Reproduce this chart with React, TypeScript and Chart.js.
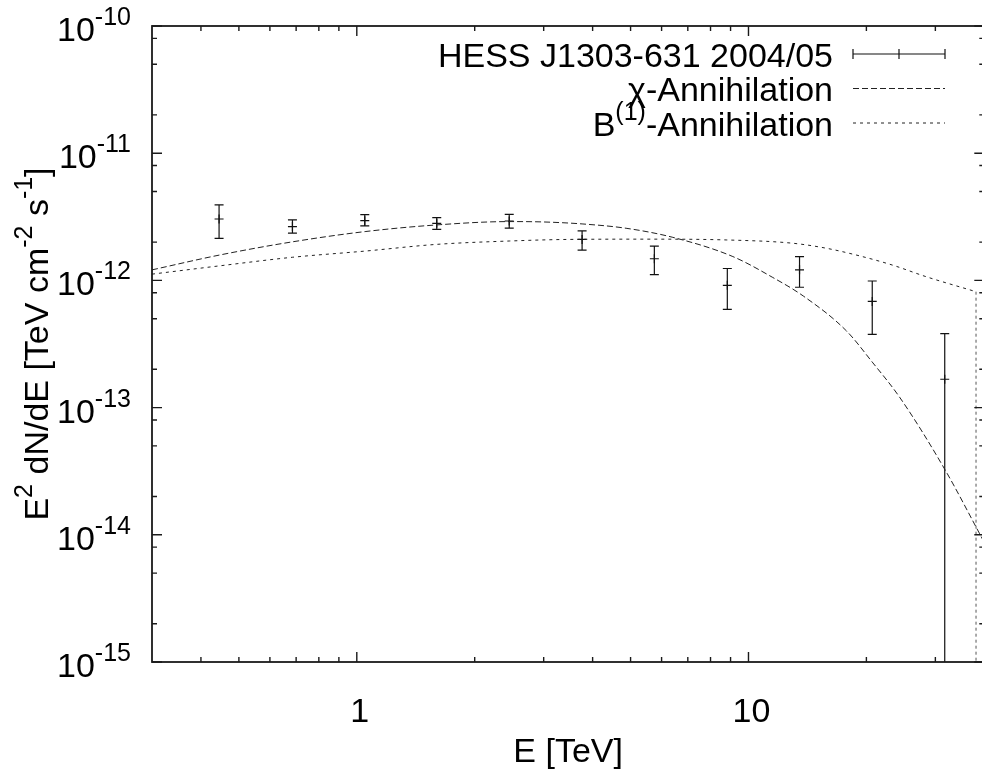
import { useEffect, useRef } from 'react';
import { Chart, registerables } from 'chart.js';

Chart.register(...registerables);

// HESS J1303-631 (2004/05) spectral points, E^2 dN/dE in TeV cm^-2 s^-1
const energies = [0.445, 0.685, 1.048, 1.6, 2.45, 3.76, 5.75, 8.83, 13.5, 20.7, 31.7];
const fluxes = [3.04e-12, 2.65e-12, 2.95e-12, 2.81e-12, 2.93e-12, 2.1e-12, 1.48e-12, 9.14e-13, 1.21e-12, 6.84e-13, 1.67e-13];
const fluxHigh = [3.92e-12, 2.99e-12, 3.29e-12, 3.11e-12, 3.31e-12, 2.45e-12, 1.86e-12, 1.24e-12, 1.54e-12, 9.89e-13, 3.81e-13];
const fluxLow = [2.14e-12, 2.35e-12, 2.68e-12, 2.52e-12, 2.58e-12, 1.73e-12, 1.11e-12, 5.92e-13, 8.83e-13, 3.77e-13, 0];

// neutralino annihilation spectrum
const chiEnergies = [0.3, 0.445, 0.685, 1.05, 1.6, 2.45, 3.0, 3.76, 4.87, 6.41, 9.12, 11.5, 13.8, 17.8, 20.7, 24.3, 31.8, 38.85, 40];
const chiFlux = [1.21e-12, 1.58e-12, 2.01e-12, 2.42e-12, 2.73e-12, 2.9e-12, 2.88e-12, 2.78e-12, 2.57e-12, 2.18e-12, 1.54e-12, 1.06e-12, 7.54e-13, 4.0e-13, 2.28e-13, 1.21e-13, 3.22e-14, 1.03e-14, 8.7e-15];

// B(1) (Kaluza-Klein) annihilation spectrum, ends at the particle mass
const kkEnergies = [0.3, 0.445, 0.685, 1.05, 1.6, 2.45, 3.5, 5.5, 8.77, 12.96, 15.8, 19.2, 23.3, 28.4, 38.1];
const kkFlux = [1.12e-12, 1.3e-12, 1.52e-12, 1.7e-12, 1.92e-12, 2.04e-12, 2.1e-12, 2.11e-12, 2.08e-12, 1.96e-12, 1.79e-12, 1.56e-12, 1.32e-12, 1.07e-12, 8.15e-13];
const kkCutoffEnergy = 38.1;

// axes
const xRange = [0.3, 40];
const yRange = [1e-15, 1e-10];
const xLabelTicks = [1, 10];
const yDecades = [-15, -14, -13, -12, -11, -10];
const yMinorMantissas = [2, 5, 8];

const legendLabels = ['HESS J1303-631 2004/05', '\u03c7-Annihilation', 'B(1)-Annihilation'];

const FONT = '"Liberation Sans", Arial, Helvetica, sans-serif';
const MAIN = 34;
const SUP = 25;
const RISE = 16;
const INK = '#111';

type Seg = [string, boolean];

function segsWidth(ctx: CanvasRenderingContext2D, segs: Seg[]) {
  let w = 0;
  for (const [t, sup] of segs) {
    ctx.font = `${sup ? SUP : MAIN}px ${FONT}`;
    w += ctx.measureText(t).width;
  }
  return w;
}

function drawSegs(ctx: CanvasRenderingContext2D, segs: Seg[], x: number, baseline: number) {
  ctx.textAlign = 'left';
  ctx.textBaseline = 'alphabetic';
  let cx = x;
  for (const [t, sup] of segs) {
    ctx.font = `${sup ? SUP : MAIN}px ${FONT}`;
    ctx.fillText(t, cx, sup ? baseline - RISE : baseline);
    cx += ctx.measureText(t).width;
  }
}

const errorBars = {
  id: 'errorBars',
  beforeDatasetsDraw(chart: any) {
    const { ctx, chartArea: a, scales } = chart;
    const xs = scales.x;
    const ys = scales.y;
    ctx.save();
    ctx.beginPath();
    ctx.rect(a.left, a.top, a.right - a.left, a.bottom - a.top);
    ctx.clip();
    ctx.strokeStyle = INK;
    ctx.lineWidth = 1.2;
    const cap = 4.5;
    energies.forEach((e, i) => {
      const px = xs.getPixelForValue(e);
      const yh = ys.getPixelForValue(fluxHigh[i]);
      const yl = fluxLow[i] > 0 ? ys.getPixelForValue(fluxLow[i]) : a.bottom + 5;
      ctx.beginPath();
      ctx.moveTo(px, yh);
      ctx.lineTo(px, yl);
      ctx.moveTo(px - cap, yh);
      ctx.lineTo(px + cap, yh);
      if (fluxLow[i] > 0) {
        ctx.moveTo(px - cap, yl);
        ctx.lineTo(px + cap, yl);
      }
      ctx.stroke();
    });
    ctx.restore();
  },
};

const frame = {
  id: 'frame',
  afterDraw(chart: any) {
    const { ctx, chartArea: a, scales } = chart;
    const xs = scales.x;
    const ys = scales.y;
    ctx.save();

    // border
    ctx.strokeStyle = '#1a1a1a';
    ctx.lineWidth = 1.8;
    ctx.strokeRect(a.left, a.top, a.right - a.left, a.bottom - a.top);

    // ticks, mirrored on all sides
    ctx.lineWidth = 1.4;
    ctx.beginPath();
    for (let d = -1; d <= 1; d++) {
      for (let m = 1; m <= 9; m++) {
        const v = m * Math.pow(10, d);
        if (v <= xRange[0] * 1.0001 || v >= xRange[1] * 0.9999) continue;
        const len = m === 1 ? 10 : 5;
        const px = xs.getPixelForValue(v);
        ctx.moveTo(px, a.bottom);
        ctx.lineTo(px, a.bottom - len);
        ctx.moveTo(px, a.top);
        ctx.lineTo(px, a.top + len);
      }
    }
    for (const d of yDecades) {
      for (const m of [1, ...yMinorMantissas]) {
        const v = m * Math.pow(10, d);
        if (v < yRange[0] * 0.9999 || v > yRange[1] * 1.0001) continue;
        const len = m === 1 ? 10 : 5;
        const py = ys.getPixelForValue(v);
        ctx.moveTo(a.left, py);
        ctx.lineTo(a.left + len, py);
        ctx.moveTo(a.right, py);
        ctx.lineTo(a.right - len, py);
      }
    }
    ctx.stroke();

    ctx.fillStyle = '#000';

    // y tick labels 10^n
    for (const d of yDecades) {
      const py = ys.getPixelForValue(Math.pow(10, d));
      const segs: Seg[] = [['10', false], [String(d), true]];
      const w = segsWidth(ctx, segs);
      drawSegs(ctx, segs, 131 - w, py + 15);
    }

    // x tick labels
    ctx.font = `${MAIN}px ${FONT}`;
    ctx.textAlign = 'center';
    ctx.textBaseline = 'alphabetic';
    for (const v of xLabelTicks) {
      ctx.fillText(String(v), xs.getPixelForValue(v) + 3, 722);
    }

    // x title
    ctx.fillText('E [TeV]', (a.left + a.right) / 2, 762);

    // y title
    const ySegs: Seg[] = [
      ['E', false], ['2', true], [' dN/dE [TeV cm', false], ['-2', true], [' s', false], ['-1', true], [']', false],
    ];
    ctx.save();
    ctx.translate(48, (a.top + a.bottom) / 2);
    ctx.rotate(-Math.PI / 2);
    const yw = segsWidth(ctx, ySegs);
    drawSegs(ctx, ySegs, -yw / 2, 0);
    ctx.restore();

    // key
    const textRight = 833;
    const sx0 = 853;
    const sx1 = 945;
    const rows = [54, 88.5, 123];
    const keySegs: Seg[][] = [
      [[legendLabels[0], false]],
      [[legendLabels[1], false]],
      [['B', false], ['(1)', true], ['-Annihilation', false]],
    ];
    keySegs.forEach((segs, i) => {
      const w = segsWidth(ctx, segs);
      drawSegs(ctx, segs, textRight - w, rows[i] + 12.5);
    });

    ctx.strokeStyle = INK;
    ctx.lineWidth = 1.2;
    ctx.beginPath();
    ctx.moveTo(sx0, rows[0]);
    ctx.lineTo(sx1, rows[0]);
    for (const sx of [sx0, (sx0 + sx1) / 2, sx1]) {
      ctx.moveTo(sx, rows[0] - 5);
      ctx.lineTo(sx, rows[0] + 5);
    }
    ctx.stroke();

    ctx.lineWidth = 1;
    ctx.strokeStyle = '#222';
    ctx.setLineDash([6, 3]);
    ctx.beginPath();
    ctx.moveTo(sx0, rows[1]);
    ctx.lineTo(sx1, rows[1]);
    ctx.stroke();
    ctx.setLineDash([3, 4]);
    ctx.beginPath();
    ctx.moveTo(sx0, rows[2]);
    ctx.lineTo(sx1, rows[2]);
    ctx.stroke();

    ctx.restore();
  },
};

export default function App() {
  const canvasRef = useRef<HTMLCanvasElement | null>(null);

  useEffect(() => {
    const canvas = canvasRef.current;
    if (!canvas) return;
    const chart = new Chart(canvas, {
      type: 'scatter',
      data: {
        datasets: [
          {
            label: legendLabels[1],
            data: chiEnergies.map((e, i) => ({ x: e, y: chiFlux[i] })),
            showLine: true,
            borderColor: '#222',
            borderWidth: 1,
            borderDash: [6, 3],
            pointRadius: 0,
            cubicInterpolationMode: 'monotone',
          },
          {
            label: legendLabels[2],
            data: kkEnergies.map((e, i) => ({ x: e, y: kkFlux[i] })),
            showLine: true,
            borderColor: '#222',
            borderWidth: 1,
            borderDash: [3, 4],
            pointRadius: 0,
            cubicInterpolationMode: 'monotone',
          },
          {
            label: 'cutoff',
            data: [
              { x: kkCutoffEnergy, y: kkFlux[kkFlux.length - 1] },
              { x: kkCutoffEnergy, y: yRange[0] / 10 },
            ],
            showLine: true,
            borderColor: '#555',
            borderWidth: 1,
            borderDash: [3, 3],
            pointRadius: 0,
          },
          {
            label: legendLabels[0],
            data: energies.map((e, i) => ({ x: e, y: fluxes[i] })),
            showLine: false,
            pointStyle: 'cross',
            pointRadius: 4.5,
            borderColor: INK,
            borderWidth: 1.2,
          },
        ],
      },
      options: {
        responsive: false,
        devicePixelRatio: 1,
        animation: false,
        layout: { padding: { left: 152, top: 26, right: 5, bottom: 107 } },
        scales: {
          x: { type: 'logarithmic', min: xRange[0], max: xRange[1], display: false },
          y: { type: 'logarithmic', min: yRange[0], max: yRange[1], display: false },
        },
        plugins: {
          legend: { display: false },
          tooltip: { enabled: false },
        },
      },
      plugins: [errorBars, frame],
    } as any);
    return () => chart.destroy();
  }, []);

  return (
    <div
      style={{
        position: 'fixed',
        left: 0,
        top: 0,
        width: 982,
        height: 769,
        overflow: 'hidden',
        background: '#fff',
      }}
    >
      <canvas ref={canvasRef} width={990} height={769} style={{ display: 'block' }} />
    </div>
  );
}
